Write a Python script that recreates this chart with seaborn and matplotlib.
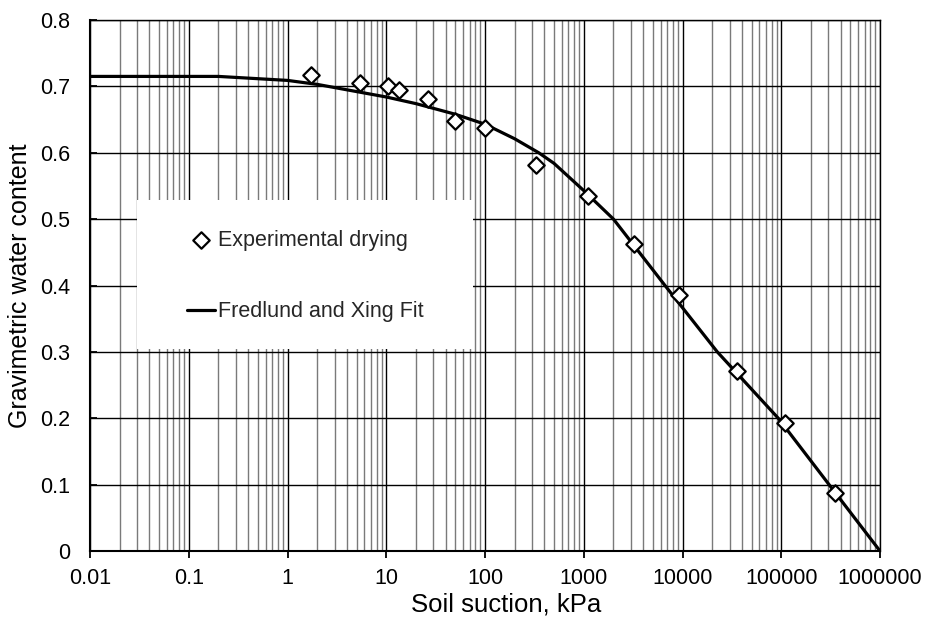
import numpy as np
import pandas as pd
import matplotlib
matplotlib.use("Agg")
import matplotlib.pyplot as plt
import seaborn as sns
from matplotlib.ticker import FixedLocator, FixedFormatter, NullFormatter, LogLocator
from matplotlib.patches import Rectangle

# Experimental drying data (soil suction kPa, gravimetric water content)
exp_suction = [1.73, 5.42, 10.3, 13.5, 26.3, 49.3, 100.7, 329, 1097, 3250, 9230, 35400, 109000, 350000]
exp_water = [0.717, 0.705, 0.701, 0.694, 0.681, 0.648, 0.637, 0.5815, 0.535, 0.463, 0.385, 0.271, 0.193, 0.087]

# Fredlund and Xing fit
fit_suction = [0.01, 0.2, 1, 2, 10, 20, 50, 100, 200, 350, 500, 1000, 2000, 6650, 22500, 93300, 305000, 1000000]
fit_water = [0.715, 0.715, 0.709, 0.703, 0.684, 0.674, 0.658, 0.643, 0.621, 0.600, 0.584, 0.543, 0.500, 0.400, 0.300, 0.200, 0.100, 0.0]

x_ticks = [0.01, 0.1, 1, 10, 100, 1000, 10000, 100000, 1000000]
x_tick_labels = ["0.01", "0.1", "1", "10", "100", "1000", "10000", "100000", "1000000"]
y_ticks = [0, 0.1, 0.2, 0.3, 0.4, 0.5, 0.6, 0.7, 0.8]
y_tick_labels = ["0", "0.1", "0.2", "0.3", "0.4", "0.5", "0.6", "0.7", "0.8"]

sns.set_theme(style="white")
plt.rcParams['font.family'] = ['Liberation Sans', 'DejaVu Sans']

fig = plt.figure(figsize=(9.27, 6.2), dpi=100)
ax = fig.add_axes([90/927, 69/620, 790/927, 531/620])

exp_df = pd.DataFrame({"suction": exp_suction, "water": exp_water})
fit_df = pd.DataFrame({"suction": fit_suction, "water": fit_water})

ax.set_xscale("log")
ax.set_xlim(0.01, 1000000)
ax.set_ylim(0, 0.8)

# grid
ax.xaxis.set_major_locator(FixedLocator(x_ticks))
ax.xaxis.set_major_formatter(FixedFormatter(x_tick_labels))
ax.xaxis.set_minor_locator(LogLocator(base=10, subs=np.arange(2, 10), numticks=100))
ax.xaxis.set_minor_formatter(NullFormatter())
ax.yaxis.set_major_locator(FixedLocator(y_ticks))
ax.yaxis.set_major_formatter(FixedFormatter(y_tick_labels))

ax.grid(which="major", axis="both", color="black", linewidth=1.0, zorder=0)
ax.grid(which="minor", axis="x", color="#7a7a7a", linewidth=1.0, zorder=0)
ax.set_axisbelow(True)

# white legend area
ax.add_patch(Rectangle((47/790, (551-349)/531), (473-137)/790, (349-200)/531,
                       transform=ax.transAxes, facecolor="white", edgecolor="none", zorder=1.5))

sns.lineplot(data=fit_df, x="suction", y="water", ax=ax, color="black", linewidth=2.3,
             label="Fredlund and Xing Fit", zorder=3, estimator=None, sort=False)
sns.scatterplot(data=exp_df, x="suction", y="water", ax=ax, marker="D", s=70,
                facecolor="white", edgecolor="black", linewidth=1.6,
                label="Experimental drying", zorder=4)

for side in ["left", "bottom"]:
    ax.spines[side].set_color("black")
    ax.spines[side].set_linewidth(1.5)
for side in ["top", "right"]:
    ax.spines[side].set_color("black")
    ax.spines[side].set_linewidth(1.0)

ax.tick_params(axis="x", which="major", direction="out", length=5, width=1.3, colors="black",
               labelsize=15.5, pad=7, bottom=True)
ax.tick_params(axis="x", which="minor", length=0)
ax.tick_params(axis="y", which="major", direction="in", length=5, width=1.3, colors="black",
               labelsize=15.5, pad=14, left=True)

ax.set_xlabel("Soil suction, kPa", fontsize=18.5, labelpad=3, color="black", x=(506-90)/790)
ax.set_ylabel("Gravimetric water content", fontsize=18, labelpad=6, color="black")

handles, labels = ax.get_legend_handles_labels()
order = [labels.index("Experimental drying"), labels.index("Fredlund and Xing Fit")]
leg = ax.legend([handles[i] for i in order], [labels[i] for i in order],
                loc="center left", bbox_to_anchor=((187-90)/790, (551-276)/531),
                frameon=False, fontsize=15.5, labelspacing=2.35, handlelength=1.3,
                handletextpad=0.12, borderpad=0, borderaxespad=0)
leg.set_zorder(5)

fig.savefig("out.png", dpi=100)
